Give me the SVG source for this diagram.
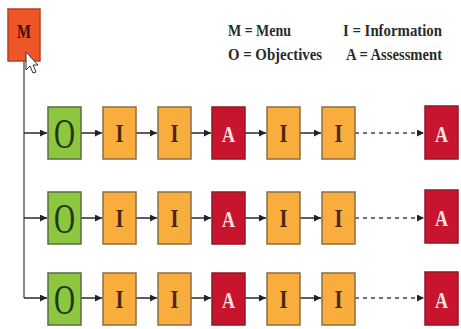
<svg xmlns="http://www.w3.org/2000/svg" width="461" height="329" viewBox="0 0 461 329">
<defs>
<marker id="ah" viewBox="0 0 8 8" refX="8" refY="4" markerWidth="7" markerHeight="7" markerUnits="userSpaceOnUse" orient="auto">
<path d="M0,0 L8,4 L0,8 z" fill="#222"/>
</marker>
<style>
.box{stroke-width:1.5}
.m{fill:#ee5628;stroke:#b8401f}
.o{fill:#8dc63f;stroke:#5b6b45}
.i{fill:#f8ad3d;stroke:#8a6e48}
.a{fill:#c8142e;stroke:#8e1a24}
.t{font-family:"Liberation Serif","DejaVu Serif",serif;text-anchor:middle}
.ot{font-size:42px;fill:#1c3a16}
.it{font-size:26px;fill:#4a2810;font-weight:bold}
.at{font-size:24px;fill:#f6e4e0;font-weight:bold}
.mt{font-size:18px;fill:#3a1208;font-weight:bold}
.lg{font-family:"Liberation Serif","DejaVu Serif",serif;font-size:16px;font-weight:bold;fill:#2a2a2a}
.c{stroke:#2a2a2a;stroke-width:1.5;fill:none}
.d{stroke:#444;stroke-width:1.5;stroke-dasharray:4 4;fill:none}
.v{stroke:#7a7a7a;stroke-width:1.8;fill:none}
</style>
</defs>
<rect width="461" height="329" fill="#ffffff"/>

<g id="legend">
<text class="lg" x="228" y="36" textLength="63" lengthAdjust="spacingAndGlyphs">M = Menu</text>
<text class="lg" x="228" y="60" textLength="94" lengthAdjust="spacingAndGlyphs">O = Objectives</text>
<text class="lg" x="343" y="36" textLength="99" lengthAdjust="spacingAndGlyphs">I = Information</text>
<text class="lg" x="346" y="60" textLength="96" lengthAdjust="spacingAndGlyphs">A = Assessment</text>
</g>

<g id="connectors">
<path class="v" d="M24,61 V298"/>
<path class="c" d="M24,133 H47" marker-end="url(#ah)"/>
<path class="c" d="M24,218 H47" marker-end="url(#ah)"/>
<path class="c" d="M24,298 H47" marker-end="url(#ah)"/>
<path class="c" d="M81,133 H102" marker-end="url(#ah)"/>
<path class="c" d="M136,133 H157" marker-end="url(#ah)"/>
<path class="c" d="M191,133 H211" marker-end="url(#ah)"/>
<path class="c" d="M245,133 H266" marker-end="url(#ah)"/>
<path class="c" d="M300,133 H321" marker-end="url(#ah)"/>
<path class="d" d="M355,133 H424" marker-end="url(#ah)"/>
<path class="c" d="M81,218 H102" marker-end="url(#ah)"/>
<path class="c" d="M136,218 H157" marker-end="url(#ah)"/>
<path class="c" d="M191,218 H211" marker-end="url(#ah)"/>
<path class="c" d="M245,218 H266" marker-end="url(#ah)"/>
<path class="c" d="M300,218 H321" marker-end="url(#ah)"/>
<path class="d" d="M355,218 H424" marker-end="url(#ah)"/>
<path class="c" d="M81,298 H102" marker-end="url(#ah)"/>
<path class="c" d="M136,298 H157" marker-end="url(#ah)"/>
<path class="c" d="M191,298 H211" marker-end="url(#ah)"/>
<path class="c" d="M245,298 H266" marker-end="url(#ah)"/>
<path class="c" d="M300,298 H321" marker-end="url(#ah)"/>
<path class="d" d="M355,298 H424" marker-end="url(#ah)"/>
</g>

<g id="menu">
<rect class="box m" x="8" y="9" width="32" height="52"/>
<text class="t mt" x="24" y="38" textLength="14" lengthAdjust="spacingAndGlyphs">M</text>
</g>
<g id="cursor">
<path d="M26,52 L26,70 L30,66 L33,73 L36,72 L33,65 L38,65 Z" fill="#ffffff" stroke="#333" stroke-width="1"/>
</g>

<g id="r1o"><rect class="box o" x="48" y="107" width="33" height="52"/><text class="t ot" x="64.5" y="148" textLength="21" lengthAdjust="spacingAndGlyphs">O</text></g>
<g id="r1i1"><rect class="box i" x="103" y="107" width="33" height="52"/><text class="t it" x="119.5" y="142" textLength="8" lengthAdjust="spacingAndGlyphs">I</text></g>
<g id="r1i2"><rect class="box i" x="158" y="107" width="33" height="52"/><text class="t it" x="174.5" y="142" textLength="8" lengthAdjust="spacingAndGlyphs">I</text></g>
<g id="r1a1"><rect class="box a" x="212" y="107" width="33" height="52"/><text class="t at" x="228.5" y="142" textLength="13" lengthAdjust="spacingAndGlyphs">A</text></g>
<g id="r1i3"><rect class="box i" x="267" y="107" width="33" height="52"/><text class="t it" x="283.5" y="142" textLength="8" lengthAdjust="spacingAndGlyphs">I</text></g>
<g id="r1i4"><rect class="box i" x="322" y="107" width="33" height="52"/><text class="t it" x="338.5" y="142" textLength="8" lengthAdjust="spacingAndGlyphs">I</text></g>
<g id="r1a2"><rect class="box a" x="425" y="106" width="33" height="53"/><text class="t at" x="441.5" y="142" textLength="13" lengthAdjust="spacingAndGlyphs">A</text></g>

<g id="r2o"><rect class="box o" x="48" y="192" width="33" height="52"/><text class="t ot" x="64.5" y="233" textLength="21" lengthAdjust="spacingAndGlyphs">O</text></g>
<g id="r2i1"><rect class="box i" x="103" y="192" width="33" height="52"/><text class="t it" x="119.5" y="227" textLength="8" lengthAdjust="spacingAndGlyphs">I</text></g>
<g id="r2i2"><rect class="box i" x="158" y="192" width="33" height="52"/><text class="t it" x="174.5" y="227" textLength="8" lengthAdjust="spacingAndGlyphs">I</text></g>
<g id="r2a1"><rect class="box a" x="212" y="192" width="33" height="52"/><text class="t at" x="228.5" y="227" textLength="13" lengthAdjust="spacingAndGlyphs">A</text></g>
<g id="r2i3"><rect class="box i" x="267" y="192" width="33" height="52"/><text class="t it" x="283.5" y="227" textLength="8" lengthAdjust="spacingAndGlyphs">I</text></g>
<g id="r2i4"><rect class="box i" x="322" y="192" width="33" height="52"/><text class="t it" x="338.5" y="227" textLength="8" lengthAdjust="spacingAndGlyphs">I</text></g>
<g id="r2a2"><rect class="box a" x="425" y="190" width="33" height="53"/><text class="t at" x="441.5" y="226" textLength="13" lengthAdjust="spacingAndGlyphs">A</text></g>

<g id="r3o"><rect class="box o" x="48" y="273" width="33" height="52"/><text class="t ot" x="64.5" y="314" textLength="21" lengthAdjust="spacingAndGlyphs">O</text></g>
<g id="r3i1"><rect class="box i" x="103" y="273" width="33" height="52"/><text class="t it" x="119.5" y="308" textLength="8" lengthAdjust="spacingAndGlyphs">I</text></g>
<g id="r3i2"><rect class="box i" x="158" y="273" width="33" height="52"/><text class="t it" x="174.5" y="308" textLength="8" lengthAdjust="spacingAndGlyphs">I</text></g>
<g id="r3a1"><rect class="box a" x="212" y="273" width="33" height="52"/><text class="t at" x="228.5" y="308" textLength="13" lengthAdjust="spacingAndGlyphs">A</text></g>
<g id="r3i3"><rect class="box i" x="267" y="273" width="33" height="52"/><text class="t it" x="283.5" y="308" textLength="8" lengthAdjust="spacingAndGlyphs">I</text></g>
<g id="r3i4"><rect class="box i" x="322" y="273" width="33" height="52"/><text class="t it" x="338.5" y="308" textLength="8" lengthAdjust="spacingAndGlyphs">I</text></g>
<g id="r3a2"><rect class="box a" x="425" y="272" width="33" height="53"/><text class="t at" x="441.5" y="308" textLength="13" lengthAdjust="spacingAndGlyphs">A</text></g>
</svg>
